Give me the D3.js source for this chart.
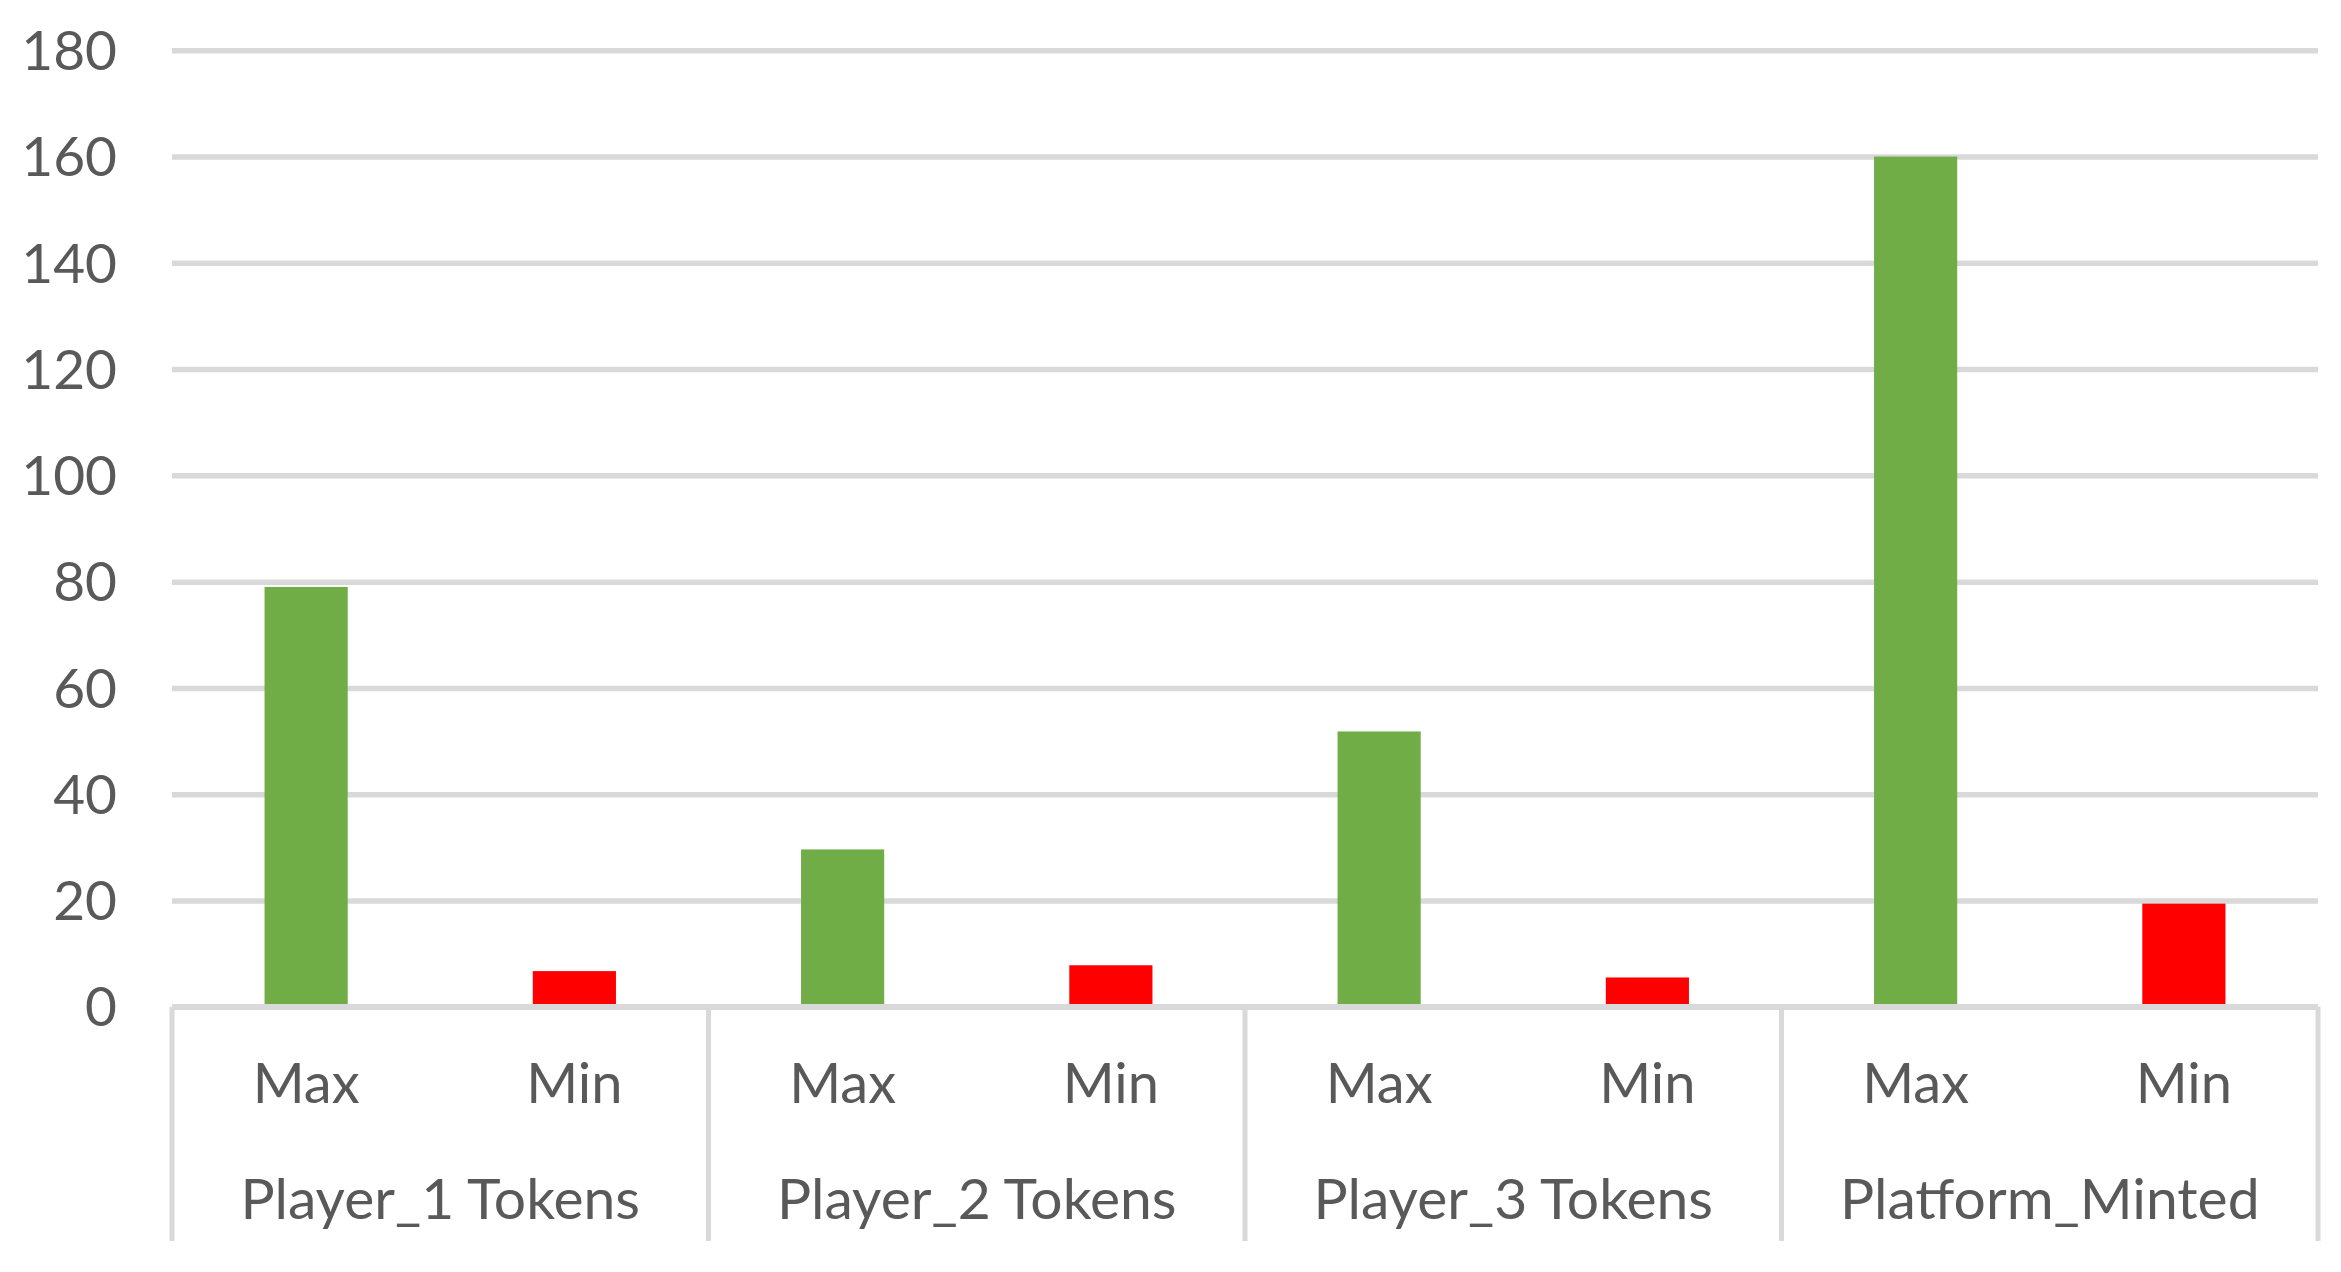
<!DOCTYPE html>
<html>
<head>
<meta charset="utf-8">
<script src="https://cdn.jsdelivr.net/npm/d3@7"></script>
<style>
  html, body { margin: 0; padding: 0; background: #ffffff; }
  svg { display: block; }
</style>
</head>
<body>
<div id="chart"></div>
<script>
// ---- data ----
const groups = ["Player_1 Tokens", "Player_2 Tokens", "Player_3 Tokens", "Platform_Minted"];
const subCategories = ["Max", "Min"];
const maxValues = [79, 29.6, 51.8, 160];
const minValues = [6.7, 7.8, 5.5, 19.4];
const yTicks = [0, 20, 40, 60, 80, 100, 120, 140, 160, 180];

// ---- layout ----
const W = 2341, H = 1272;
const plotLeft = 172, plotRight = 2318, plotTop = 50.3, plotBottom = 1006.7, sepBottom = 1241;
const fontFamily = "Lato, 'Open Sans', sans-serif";
const textColor = "#595959";
const gridColor = "#d9d9d9";
const colors = { Max: "#70ad47", Min: "#ff0000" };

const rows = [];
groups.forEach((g, i) => {
  rows.push({ group: g, sub: "Max", value: maxValues[i] });
  rows.push({ group: g, sub: "Min", value: minValues[i] });
});

const svg = d3.select("#chart").append("svg")
  .attr("width", W).attr("height", H)
  .style("background", "#fff");

const y = d3.scaleLinear().domain([0, 180]).range([plotBottom, plotTop]);
const x0 = d3.scaleBand().domain(groups).range([plotLeft, plotRight]).padding(0);
const x1 = d3.scaleBand().domain(subCategories).range([0, x0.bandwidth()])
  .paddingInner(0.69).paddingOuter(0.345);

// gridlines + y labels via axis
const yAxis = d3.axisLeft(y).tickValues(yTicks).tickSize(-(plotRight - plotLeft)).tickPadding(55);
const gy = svg.append("g").attr("transform", `translate(${plotLeft},0)`).call(yAxis);
gy.select(".domain").remove();
gy.selectAll(".tick line").attr("stroke", gridColor).attr("stroke-width", 5.5);
gy.selectAll(".tick text")
  .attr("fill", textColor)
  .attr("font-family", fontFamily)
  .attr("font-size", 55)
  .attr("dy", "0.35em");

// bars
svg.append("g").selectAll("rect").data(rows).join("rect")
  .attr("x", d => x0(d.group) + x1(d.sub))
  .attr("y", d => y(d.value))
  .attr("width", x1.bandwidth())
  .attr("height", d => y(0) - y(d.value))
  .attr("fill", d => colors[d.sub]);

// zero axis line on top
svg.append("line")
  .attr("x1", plotLeft).attr("x2", plotRight)
  .attr("y1", y(0)).attr("y2", y(0))
  .attr("stroke", gridColor).attr("stroke-width", 5.5);

// category separators
const seps = groups.map(g => x0(g)).concat([plotRight]);
svg.append("g").selectAll("line").data(seps).join("line")
  .attr("x1", d => d).attr("x2", d => d)
  .attr("y1", y(0)).attr("y2", sepBottom)
  .attr("stroke", gridColor).attr("stroke-width", 5);

// sub-category labels
svg.append("g").selectAll("text").data(rows).join("text")
  .attr("x", d => x0(d.group) + x1(d.sub) + x1.bandwidth() / 2)
  .attr("y", 1083)
  .attr("dy", "0.35em")
  .attr("text-anchor", "middle")
  .attr("fill", textColor)
  .attr("font-family", fontFamily)
  .attr("font-size", 56)
  .text(d => d.sub);

// group labels
svg.append("g").selectAll("text").data(groups).join("text")
  .attr("x", d => x0(d) + x0.bandwidth() / 2)
  .attr("y", 1199)
  .attr("dy", "0.35em")
  .attr("text-anchor", "middle")
  .attr("fill", textColor)
  .attr("font-family", fontFamily)
  .attr("font-size", 57)
  .text(d => d);
</script>
</body>
</html>
